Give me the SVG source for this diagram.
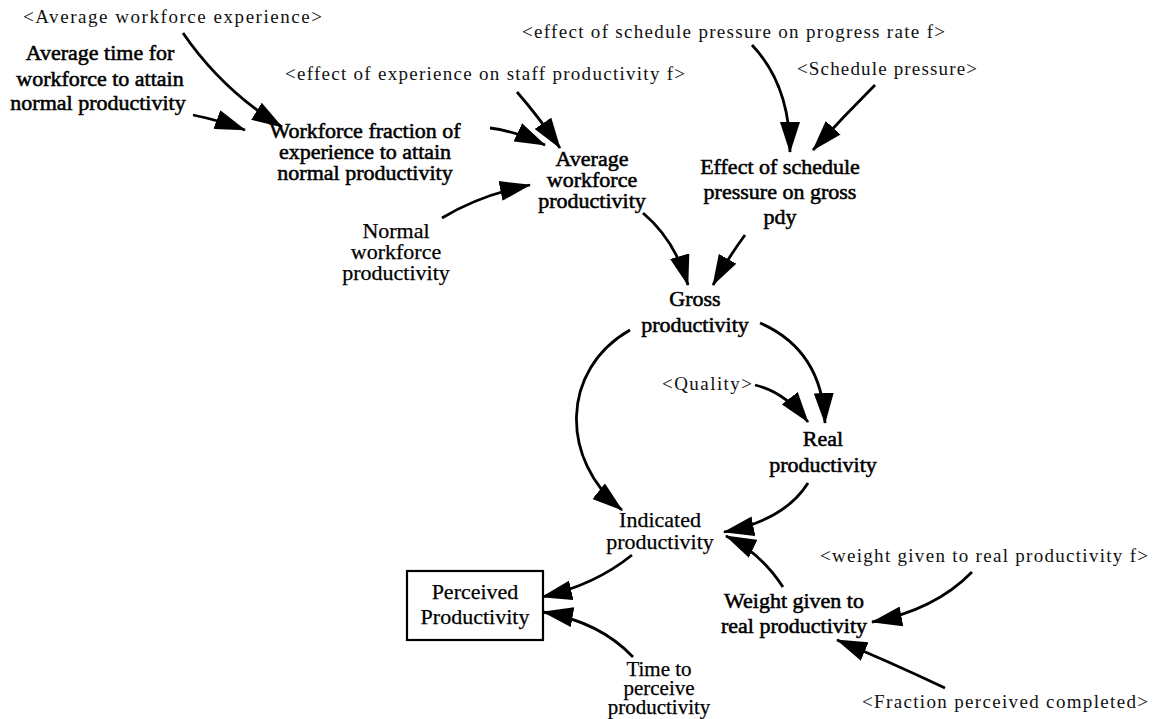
<svg xmlns="http://www.w3.org/2000/svg" width="1153" height="719" viewBox="0 0 1153 719">
  <style>
    .v { font-family: "Liberation Serif", "Times New Roman", serif; font-size: 22px; fill: #000; stroke: #000; stroke-width: 0.25; text-anchor: middle; }
    .h { stroke-width: 0.55; }
    .s { font-family: "Liberation Serif", "Times New Roman", serif; font-size: 19px; fill: #111; text-anchor: middle; }
    .link { fill: none; stroke: #000; stroke-width: 2.8; marker-end: url(#head); }
    .box { fill: #fff; stroke: #000; stroke-width: 2.2; }
  </style>
  <defs>
    <marker id="head" markerUnits="userSpaceOnUse" markerWidth="31" markerHeight="20" viewBox="0 0 31 20" refX="30" refY="10" orient="auto">
      <path d="M0,0 L31,10 L0,20 z" fill="#000"/>
    </marker>
  </defs>
  <rect width="1153" height="719" fill="#fff"/>

  <!-- connectors -->
  <g id="connectors">
    <path class="link" d="M183,33 Q222,90 282,127"/>
    <path class="link" d="M193,115 Q218,120 245,130"/>
    <path class="link" d="M490,128 Q515,131 545,145"/>
    <path class="link" d="M517,92 Q538,116 560,148"/>
    <path class="link" d="M442,218 Q480,195 530,185"/>
    <path class="link" d="M752,45 Q790,85 790,152"/>
    <path class="link" d="M875,85 Q843,117 813,150"/>
    <path class="link" d="M643,213 Q675,240 688,285"/>
    <path class="link" d="M745,235 Q728,258 713,285"/>
    <path class="link" d="M630,330 C560,370 560,460 622,510"/>
    <path class="link" d="M760,323 Q822,350 825,423"/>
    <path class="link" d="M755,385 Q785,392 808,422"/>
    <path class="link" d="M808,483 Q785,520 724,532"/>
    <path class="link" d="M783,587 Q760,552 726,536"/>
    <path class="link" d="M632,555 Q595,585 542,597"/>
    <path class="link" d="M633,657 Q600,622 543,612"/>
    <path class="link" d="M972,572 Q935,610 872,622"/>
    <path class="link" d="M945,688 Q890,662 837,640"/>
  </g>

  <!-- shadow variables -->
  <g id="avg-workforce-experience"><text class="s" x="172.5" y="23" textLength="299" lengthAdjust="spacing">&lt;Average workforce experience&gt;</text></g>
  <g id="effect-experience-f"><text class="s" x="485" y="80" textLength="400" lengthAdjust="spacing">&lt;effect of experience on staff productivity f&gt;</text></g>
  <g id="effect-schedule-f"><text class="s" x="733.5" y="38" textLength="423" lengthAdjust="spacing">&lt;effect of schedule pressure on progress rate f&gt;</text></g>
  <g id="schedule-pressure"><text class="s" x="887" y="75" textLength="180" lengthAdjust="spacing">&lt;Schedule pressure&gt;</text></g>
  <g id="quality"><text class="s" x="707" y="390" textLength="90" lengthAdjust="spacing">&lt;Quality&gt;</text></g>
  <g id="weight-f"><text class="s" x="984" y="562" textLength="328" lengthAdjust="spacing">&lt;weight given to real productivity f&gt;</text></g>
  <g id="fraction-perceived"><text class="s" x="1005" y="708" textLength="286" lengthAdjust="spacing">&lt;Fraction perceived completed&gt;</text></g>

  <!-- variables -->
  <g id="avg-time-attain">
    <text class="v h" x="100" y="60">Average time for</text>
    <text class="v h" x="100" y="86">workforce to attain</text>
    <text class="v h" x="98" y="110">normal productivity</text>
  </g>
  <g id="workforce-fraction">
    <text class="v h" x="365" y="138">Workforce fraction of</text>
    <text class="v h" x="365" y="159">experience to attain</text>
    <text class="v h" x="365" y="180">normal productivity</text>
  </g>
  <g id="avg-workforce-productivity">
    <text class="v h" x="592" y="166">Average</text>
    <text class="v h" x="592" y="187">workforce</text>
    <text class="v h" x="592" y="208">productivity</text>
  </g>
  <g id="effect-schedule-pdy">
    <text class="v h" x="780" y="174">Effect of schedule</text>
    <text class="v h" x="780" y="199">pressure on gross</text>
    <text class="v h" x="780" y="224">pdy</text>
  </g>
  <g id="normal-workforce-productivity">
    <text class="v" x="396" y="238">Normal</text>
    <text class="v" x="396" y="259">workforce</text>
    <text class="v" x="396" y="280">productivity</text>
  </g>
  <g id="gross-productivity">
    <text class="v h" x="695" y="306">Gross</text>
    <text class="v h" x="695" y="332">productivity</text>
  </g>
  <g id="real-productivity">
    <text class="v h" x="823" y="446">Real</text>
    <text class="v h" x="823" y="472">productivity</text>
  </g>
  <g id="indicated-productivity">
    <text class="v" x="660" y="527">Indicated</text>
    <text class="v" x="660" y="549">productivity</text>
  </g>
  <g id="perceived-productivity">
    <rect class="box" x="407" y="571" width="136" height="69"/>
    <text class="v" x="475" y="599">Perceived</text>
    <text class="v" x="475" y="624">Productivity</text>
  </g>
  <g id="time-to-perceive">
    <text class="v" x="659" y="676" style="font-size:21px">Time to</text>
    <text class="v" x="659" y="695" style="font-size:21px">perceive</text>
    <text class="v" x="659" y="714" style="font-size:21px">productivity</text>
  </g>
  <g id="weight-real-productivity">
    <text class="v h" x="794" y="608">Weight given to</text>
    <text class="v h" x="794" y="633">real productivity</text>
  </g>
</svg>
